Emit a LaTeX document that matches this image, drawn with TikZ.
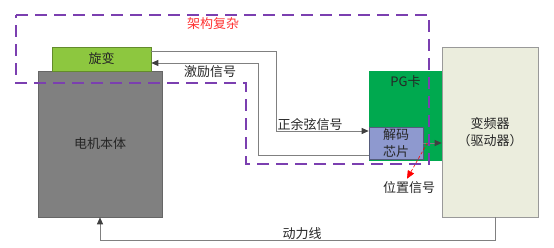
\documentclass[tikz,border=0pt]{standalone}
\usepackage{fontspec}
\newfontfamily\cjk{Noto Sans CJK SC}
\usetikzlibrary{arrows.meta}

\definecolor{motorgray}{HTML}{808080}
\definecolor{rvgreen}{HTML}{8DC73F}
\definecolor{pggreen}{HTML}{00A94F}
\definecolor{chipblue}{HTML}{8E99CF}
\definecolor{invbeige}{HTML}{EBEDDD}
\definecolor{framepurple}{HTML}{7B3FB0}

\begin{document}
\begin{tikzpicture}[x=1pt, y=-1pt, every node/.style={font=\cjk\fontsize{13}{17}\selectfont, text=black!85, inner sep=0pt, align=center}, >={Triangle[length=7pt, width=6pt, color=black!75]}, blk/.style={draw, line width=0.6pt}, sig/.style={draw=black!50, line width=0.8pt}]
	\useasboundingbox (0,0) rectangle (554,248);
	\node[blk, fill=motorgray, draw=motorgray!80!black, minimum width=124, minimum height=146] (motor) at (100,144) {电机本体};
	\node[blk, fill=rvgreen, draw=rvgreen!70!black, minimum width=99, minimum height=24] (xb) at (101.5,59) {旋变};
	\node[fill=pggreen, minimum width=73, minimum height=90, label={[anchor=north, yshift=-5pt]north:PG卡}] (pg) at (405.5,116) {};
	\node[blk, fill=chipblue, draw=chipblue!60!black, minimum width=54, minimum height=32] (jm) at (396,143) {解码\\芯片};
	\node[blk, fill=invbeige, draw=black!40, minimum width=96, minimum height=170] (bp) at (490,132) {变频器\\（驱动器）};
	\node (jl) at (210,72) {激励信号};
	\node (zy) at (310,125) {正余弦信号};
	\node (wz) at (409,188) {位置信号};
	\node (dl) at (302,234) {动力线};
	\node[text=red!80] (jg) at (213,24) {架构复杂};
	% signal paths
	\draw[sig, ->] ([yshift=8pt]xb.east) -- ++(125,0) |- ([yshift=12pt]jm.west);
	\draw[sig, ->] ([yshift=-12pt]jm.west) -- ++(-110,0) |- ([yshift=-4pt]xb.east);
	\draw[sig, ->] (jm.east) -- (jm.east -| bp.west);
	\draw[red, densely dashed, line width=0.6pt, -{Triangle[length=8pt, width=7pt]}] ([xshift=4pt]jm.east) -- ([xshift=-2pt, yshift=3pt]wz.north);
	\draw[sig, ->] ([xshift=5pt]bp.south) -- ++(0,23) -| (motor.south);
	% frame of the complex part
	\draw[framepurple, line width=1.2pt, dash pattern=on 12pt off 7pt] (16,15) -- (429,15) -- (429,164) -- (246,164) -- (246,83) -- (16,83) -- cycle;
\end{tikzpicture}
\end{document}
